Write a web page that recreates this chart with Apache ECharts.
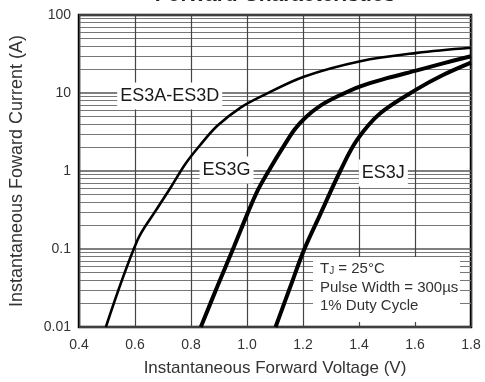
<!DOCTYPE html>
<html>
<head>
<meta charset="utf-8">
<script src="https://cdn.jsdelivr.net/npm/echarts@6/dist/echarts.min.js"></script>
<style>
html,body{margin:0;padding:0;background:#fff;}
#c{width:485px;height:382px;}
</style>
</head>
<body>
<div id="c"></div>
<script>
// ---- data ----
const xTicks = [0.4, 0.6, 0.8, 1.0, 1.2, 1.4, 1.6, 1.8];
const yTickLabels = ['0.01', '0.1', '1', '10', '100'];
const seriesNames = ['ES3A-ES3D', 'ES3G', 'ES3J'];
const es3ad = [[0.496,0.01],[0.609,0.13],[0.674,0.31],[0.728,0.62],[0.781,1.25],[0.835,2.2],[0.894,3.8],[0.977,6.5],[1.06,9.4],[1.203,16.2],[1.405,25.6],[1.607,32.7],[1.8,38]];
const es3g  = [[0.835,0.01],[0.894,0.033],[0.953,0.106],[1.001,0.28],[1.04,0.58],[1.084,1.1],[1.13,2.05],[1.17,3.4],[1.21,4.9],[1.26,6.8],[1.322,9.0],[1.405,12.2],[1.5,15.5],[1.607,19.5],[1.7,24],[1.8,29.6]];
const es3j  = [[1.102,0.01],[1.155,0.033],[1.203,0.096],[1.262,0.28],[1.333,1.0],[1.393,2.5],[1.476,5.5],[1.607,11.2],[1.7,17],[1.8,24.5]];
const labelAnchors = [[0.724, 9.16], [0.927, 1.03], [1.487, 0.944]];
const notes = ['T{sub|J} = 25°C', 'Pulse Width = 300µs', '1% Duty Cycle'];
const titleText = 'Forward Characteristics';
const xName = 'Instantaneous Forward Voltage (V)';
const yName = 'Instantaneous Foward Current (A)';

// ---- chart ----
const FONT = '"Liberation Sans", Arial, Helvetica, sans-serif';
const chart = echarts.init(document.getElementById('c'), null, {renderer: 'canvas'});

function mkLabel(i) {
  return {
    symbol: 'rect', symbolSize: 1, itemStyle: {color: 'rgba(0,0,0,0)'},
    label: {
      show: true, position: 'inside', formatter: seriesNames[i],
      fontFamily: FONT, fontSize: 18, color: '#1a1a1a',
      backgroundColor: '#fff', padding: [5, 3, 4, 3]
    },
    data: [{coord: labelAnchors[i]}]
  };
}
const dataSets = [es3ad, es3g, es3j];
const widths = [2.6, 4, 4];

const option = {
  animation: false,
  backgroundColor: '#fff',
  grid: {left: 78, right: 14, top: 15, bottom: 51, show: true, borderColor: '#000', borderWidth: 2.5, backgroundColor: 'transparent'},
  xAxis: {
    type: 'value', min: 0.4, max: 1.8, interval: 0.2,
    axisLine: {show: false}, axisTick: {show: false},
    axisLabel: {
      margin: 11, color: '#333', fontFamily: FONT, fontSize: 14,
      formatter: v => { const t = xTicks.find(x => Math.abs(x - v) < 1e-6); return t === undefined ? '' : t.toFixed(1); }
    },
    splitLine: {show: true, lineStyle: {color: '#444', width: 1.2}},
    name: xName, nameLocation: 'middle', nameGap: 33,
    nameTextStyle: {color: '#333', fontFamily: FONT, fontSize: 17}
  },
  yAxis: {
    type: 'log', logBase: 10, min: 0.01, max: 100,
    axisLine: {show: false}, axisTick: {show: false},
    axisLabel: {
      margin: 8, color: '#333', fontFamily: FONT, fontSize: 14,
      formatter: v => yTickLabels[Math.round(Math.log10(v)) + 2]
    },
    splitLine: {show: true, lineStyle: {color: '#555', width: 1.5}},
    minorTick: {show: false, splitNumber: 9},
    minorSplitLine: {show: true, lineStyle: {color: '#777', width: 1.2}},
    name: yName, nameLocation: 'middle', nameGap: 53,
    nameTextStyle: {color: '#333', fontFamily: FONT, fontSize: 18}
  },
  series: dataSets.map((d, i) => ({
    name: seriesNames[i], type: 'line', data: d, showSymbol: false, symbol: 'none',
    smooth: 0.35, lineStyle: {color: '#000', width: widths[i]},
    markPoint: mkLabel(i), z: 3
  })),
  graphic: [
    {type: 'text', z: 10, style: {text: titleText, x: 275, y: -5, textAlign: 'center', textVerticalAlign: 'middle', font: 'bold 21px ' + FONT, fill: '#222'}},
    {type: 'rect', z: 9, shape: {x: 313, y: 257, width: 147, height: 65}, style: {fill: '#fff'}},
    {type: 'text', z: 10, style: {text: notes[0], x: 320, y: 269, textVerticalAlign: 'middle', fontFamily: FONT, fontSize: 15, fill: '#333',
      rich: {sub: {fontSize: 10, fontFamily: FONT, fill: '#333', padding: [4, 0, 0, 0]}}}},
    {type: 'text', z: 10, style: {text: notes[1], x: 320, y: 288, textVerticalAlign: 'middle', fontFamily: FONT, fontSize: 15, fill: '#333'}},
    {type: 'text', z: 10, style: {text: notes[2], x: 320, y: 306, textVerticalAlign: 'middle', fontFamily: FONT, fontSize: 15, fill: '#333'}}
  ]
};
chart.setOption(option);
</script>
</body>
</html>
